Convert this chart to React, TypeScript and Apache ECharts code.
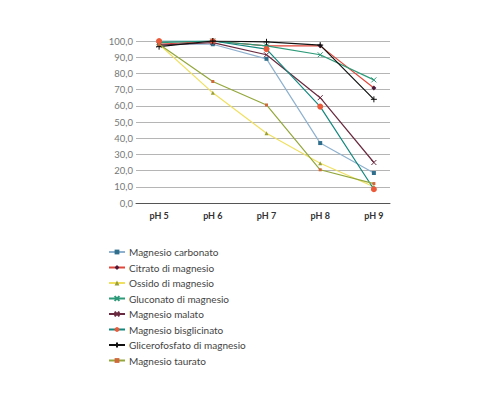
import React, { useEffect, useRef } from "react";
import * as echarts from "echarts";

const phValues = [5, 6, 7, 8, 9];
const seriesNames = [
  "Magnesio carbonato",
  "Citrato di magnesio",
  "Ossido di magnesio",
  "Gluconato di magnesio",
  "Magnesio malato",
  "Magnesio bisglicinato",
  "Glicerofosfato di magnesio",
  "Magnesio taurato",
];
const carbonato = [98, 98, 89, 37, 18.5];
const citrato = [98, 100, 97, 97, 71];
const ossido = [98, 68, 43, 24.5, 10];
const gluconato = [99, 100, 97, 91.5, 76];
const malato = [97.5, 99, 91.5, 65, 25];
const bisglicinato = [100, 100, 95, 59.5, 8.5];
const glicerofosfato = [96.5, 100, 99.5, 97.5, 64];
const taurato = [98, 75, 60.5, 20.5, 12];

const yTicks = [0, 10, 20, 30, 40, 50, 60, 70, 80, 90, 100];

const X_PATH = "path://M0,0L10,10M10,0L0,10";
const PLUS_PATH = "path://M5,0L5,10M0,5L10,5";

const styles = [
  { values: carbonato, line: "#8eb1cf", mark: "#2f6f8c", symbol: "rect", size: 4 },
  { values: citrato, line: "#e0463a", mark: "#4a1a3a", symbol: "diamond", size: 5 },
  { values: ossido, line: "#f0e060", mark: "#9aa035", symbol: "triangle", size: 4 },
  { values: gluconato, line: "#2d9a78", mark: "#2d9a78", symbol: X_PATH, size: 5, stroke: true },
  { values: malato, line: "#6a2a40", mark: "#6a2a40", symbol: X_PATH, size: 5, stroke: true },
  { values: bisglicinato, line: "#13877e", mark: "#ec5a3a", symbol: "circle", size: 6 },
  { values: glicerofosfato, line: "#111111", mark: "#111111", symbol: PLUS_PATH, size: 6, stroke: true },
  { values: taurato, line: "#93a73b", mark: "#d0683a", symbol: "rect", size: 3 },
];

export default function App() {
  const chartRef = useRef<HTMLDivElement>(null);

  useEffect(() => {
    if (!chartRef.current) return;
    const chart = echarts.init(chartRef.current, undefined, { renderer: "svg" });
    const font = "Lato, 'Noto Sans', sans-serif";

    chart.setOption({
      animation: false,
      backgroundColor: "#ffffff",
      textStyle: { fontFamily: font },
      grid: { left: 136, right: 110, top: 41, bottom: 197 },
      xAxis: {
        type: "value",
        min: 4.57,
        max: 9.3,
        axisLine: { show: true, lineStyle: { color: "#555555", width: 1 } },
        axisTick: { show: false },
        splitLine: { show: false },
        axisLabel: {
          customValues: phValues,
          formatter: (v: number) => "pH " + v,
          color: "#333333",
          fontWeight: "bold",
          fontSize: 9,
          margin: 8,
        },
      },
      yAxis: {
        type: "value",
        min: 0,
        max: 100,
        interval: 10,
        axisLine: { show: false },
        axisTick: { show: false },
        splitLine: { lineStyle: { color: "#b5b5b5", width: 1 } },
        axisLabel: {
          customValues: yTicks,
          formatter: (v: number) => v.toFixed(1).replace(".", ","),
          color: "#777777",
          fontSize: 9.5,
          margin: 3,
        },
      },
      legend: {
        orient: "vertical",
        left: 103,
        top: 242,
        itemWidth: 16,
        itemHeight: 6,
        itemGap: 5.5,
        textStyle: { color: "#444444", fontSize: 10, fontFamily: font, padding: [0, 0, 0, -1] },
        data: seriesNames,
      },
      series: styles.map((s, i) => ({
        name: seriesNames[i],
        type: "line",
        data: s.values.map((v, j) => [phValues[j], v]),
        symbol: s.symbol,
        symbolSize: s.size,
        showSymbol: true,
        lineStyle: { color: s.line, width: 1.2 },
        itemStyle: s.stroke
          ? { color: s.mark, borderColor: s.mark, borderWidth: 1 }
          : { color: s.mark, borderWidth: 0 },
        z: 2 + i,
      })),
    });

    return () => chart.dispose();
  }, []);

  return <div ref={chartRef} style={{ width: 500, height: 400, margin: -8 }} />;
}
